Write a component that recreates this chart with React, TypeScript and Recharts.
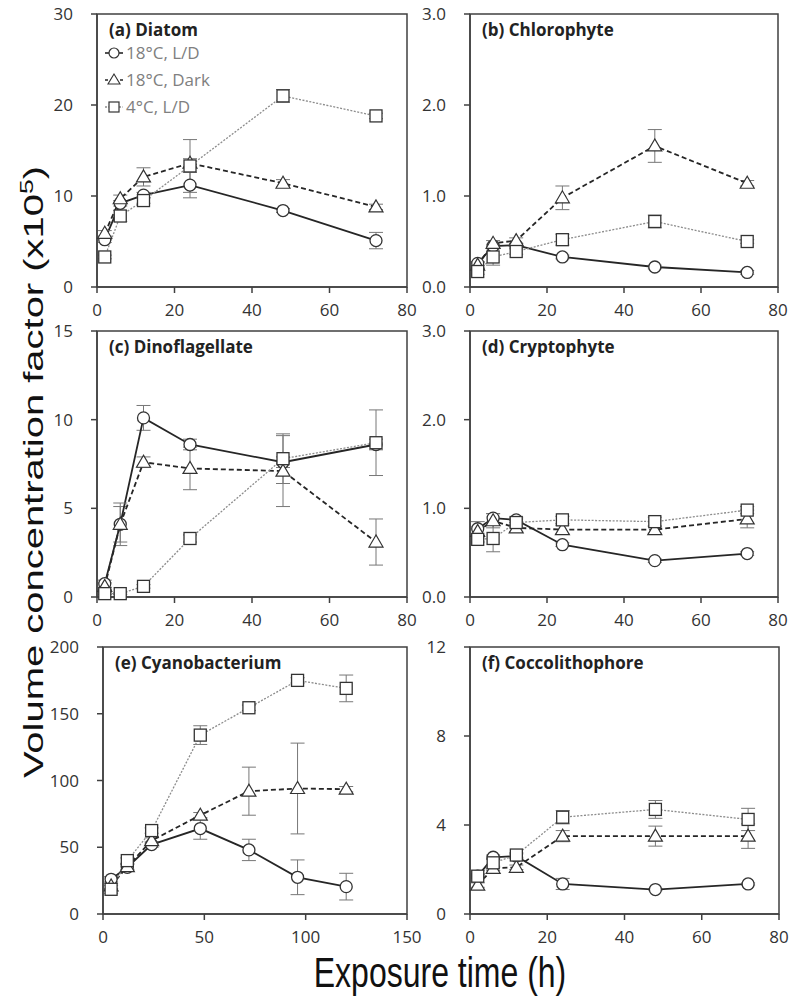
import React from 'react'
import { LineChart, Line, XAxis, YAxis, ErrorBar, ReferenceArea } from 'recharts'

// sampling times (h)
const hoursShort = [2, 6, 12, 24, 48, 72]
const hoursCyano = [4, 12, 24, 48, 72, 96, 120]

const seriesNames = ['18°C, L/D', '18°C, Dark', '4°C, L/D']

// (a) Diatom
const diatomLD = [5.2, 9.2, 10.1, 11.2, 8.4, 5.1]
const diatomLDErr = [0.3, 0.3, 0.3, 1.4, 0.2, 0.9]
const diatomDark = [5.9, 9.7, 12.1, 13.6, 11.4, 8.8]
const diatomDarkErr = [0.3, 0.4, 1.0, 0.5, 0.4, 0.3]
const diatomCold = [3.3, 7.8, 9.5, 13.3, 21.0, 18.8]
const diatomColdErr = [0.2, 0.6, 0.3, 2.9, 0.7, 0.3]

// (b) Chlorophyte
const chloroLD = [0.26, 0.45, 0.46, 0.33, 0.22, 0.16]
const chloroLDErr = [0.02, 0.02, 0.02, 0.02, 0.02, 0.02]
const chloroDark = [0.24, 0.48, 0.51, 0.98, 1.55, 1.14]
const chloroDarkErr = [0.03, 0.03, 0.03, 0.13, 0.18, 0.03]
const chloroCold = [0.17, 0.33, 0.39, 0.52, 0.72, 0.5]
const chloroColdErr = [0.03, 0.09, 0.03, 0.06, 0.07, 0.02]

// (c) Dinoflagellate
const dinoLD = [0.75, 4.1, 10.1, 8.6, 7.6, 8.6]
const dinoLDErr = [0.2, 1.0, 0.7, 0.3, 0.3, 0.3]
const dinoDark = [0.6, 4.1, 7.6, 7.25, 7.1, 3.1]
const dinoDarkErr = [0.2, 1.2, 0.3, 1.2, 2.0, 1.3]
const dinoCold = [0.19, 0.19, 0.6, 3.3, 7.8, 8.7]
const dinoColdErr = [0.05, 0.05, 0.1, 0.2, 1.4, 1.85]

// (d) Cryptophyte
const cryptoLD = [0.77, 0.89, 0.87, 0.59, 0.41, 0.49]
const cryptoLDErr = [0.08, 0.05, 0.03, 0.02, 0.02, 0.02]
const cryptoDark = [0.74, 0.86, 0.78, 0.76, 0.76, 0.88]
const cryptoDarkErr = [0.05, 0.08, 0.04, 0.05, 0.04, 0.1]
const cryptoCold = [0.65, 0.66, 0.84, 0.87, 0.85, 0.98]
const cryptoColdErr = [0.03, 0.15, 0.04, 0.04, 0.05, 0.04]

// (e) Cyanobacterium
const cyanoLD = [26, 35, 52, 64, 48, 27.5, 20.5]
const cyanoLDErr = [2, 2, 2, 8, 8, 13, 10]
const cyanoDark = [21, 35.5, 55, 74, 92, 94, 93.5]
const cyanoDarkErr = [2, 2, 2, 2, 18, 34, 2]
const cyanoCold = [18.5, 40, 62.5, 134, 154.5, 175, 169]
const cyanoColdErr = [3, 2, 2, 7, 2, 2, 10]

// (f) Coccolithophore
const coccoLD = [1.7, 2.55, 2.6, 1.35, 1.1, 1.35]
const coccoLDErr = [0.1, 0.1, 0.1, 0.25, 0.05, 0.05]
const coccoDark = [1.3, 2.05, 2.1, 3.5, 3.5, 3.5]
const coccoDarkErr = [0.1, 0.1, 0.1, 0.25, 0.45, 0.55]
const coccoCold = [1.7, 2.3, 2.65, 4.35, 4.7, 4.25]
const coccoColdErr = [0.1, 0.2, 0.1, 0.3, 0.4, 0.5]

const ticks80 = [0, 20, 40, 60, 80]
const ticks150 = [0, 50, 100, 150]

const AXIS = '#404040'
const MARK = '#333'

type Panel = {
  title: string
  hours: number[]
  ld: number[]; ldErr: number[]
  dark: number[]; darkErr: number[]
  cold: number[]; coldErr: number[]
  xMax: number; xTicks: number[]
  yMax: number; yTicks: number[]; decimals: number
  box: [number, number, number, number] // plot area left, top, width, height
}

const panels: Panel[] = [
  { title: '(a) Diatom', hours: hoursShort, ld: diatomLD, ldErr: diatomLDErr, dark: diatomDark, darkErr: diatomDarkErr, cold: diatomCold, coldErr: diatomColdErr, xMax: 80, xTicks: ticks80, yMax: 30, yTicks: [0, 10, 20, 30], decimals: 0, box: [97, 14, 310, 273] },
  { title: '(b) Chlorophyte', hours: hoursShort, ld: chloroLD, ldErr: chloroLDErr, dark: chloroDark, darkErr: chloroDarkErr, cold: chloroCold, coldErr: chloroColdErr, xMax: 80, xTicks: ticks80, yMax: 3, yTicks: [0, 1, 2, 3], decimals: 1, box: [470, 14, 308, 273] },
  { title: '(c) Dinoflagellate', hours: hoursShort, ld: dinoLD, ldErr: dinoLDErr, dark: dinoDark, darkErr: dinoDarkErr, cold: dinoCold, coldErr: dinoColdErr, xMax: 80, xTicks: ticks80, yMax: 15, yTicks: [0, 5, 10, 15], decimals: 0, box: [97, 331, 310, 266] },
  { title: '(d) Cryptophyte', hours: hoursShort, ld: cryptoLD, ldErr: cryptoLDErr, dark: cryptoDark, darkErr: cryptoDarkErr, cold: cryptoCold, coldErr: cryptoColdErr, xMax: 80, xTicks: ticks80, yMax: 3, yTicks: [0, 1, 2, 3], decimals: 1, box: [470, 331, 308, 266] },
  { title: '(e) Cyanobacterium', hours: hoursCyano, ld: cyanoLD, ldErr: cyanoLDErr, dark: cyanoDark, darkErr: cyanoDarkErr, cold: cyanoCold, coldErr: cyanoColdErr, xMax: 150, xTicks: ticks150, yMax: 200, yTicks: [0, 50, 100, 150, 200], decimals: 0, box: [103, 647, 304, 267] },
  { title: '(f) Coccolithophore', hours: hoursShort, ld: coccoLD, ldErr: coccoLDErr, dark: coccoDark, darkErr: coccoDarkErr, cold: coccoCold, coldErr: coccoColdErr, xMax: 80, xTicks: ticks80, yMax: 12, yTicks: [0, 4, 8, 12], decimals: 0, box: [470, 647, 309, 267] },
]

const CircleDot = (props: any) => {
  const { cx, cy, index } = props
  if (cx == null || cy == null) return <g key={`c${index}`} />
  return <circle key={`c${index}`} cx={cx} cy={cy} r={6} fill="#fff" stroke={MARK} strokeWidth={1.3} />
}

const TriangleDot = (props: any) => {
  const { cx, cy, index } = props
  if (cx == null || cy == null) return <g key={`t${index}`} />
  return (
    <polygon key={`t${index}`} points={`${cx},${cy - 7} ${cx - 7},${cy + 5} ${cx + 7},${cy + 5}`}
      fill="#fff" stroke={MARK} strokeWidth={1.2} />
  )
}

const SquareDot = (props: any) => {
  const { cx, cy, index } = props
  if (cx == null || cy == null) return <g key={`s${index}`} />
  return <rect key={`s${index}`} x={cx - 6} y={cy - 6} width={12} height={12} fill="#fff" stroke={MARK} strokeWidth={1.3} />
}

const TOP_PAD = 16
const RIGHT_PAD = 22

function PanelChart({ p }: { p: Panel }) {
  const [left, top, w, h] = p.box
  const data = p.hours.map((t, i) => ({
    t,
    ld: p.ld[i], ldErr: p.ldErr[i],
    dark: p.dark[i], darkErr: p.darkErr[i],
    cold: p.cold[i], coldErr: p.coldErr[i],
  }))
  const tickStyle = { fill: '#333', fontSize: 17, fontFamily: 'Open Sans' }
  return (
    <div style={{ position: 'absolute', left: left - 60, top: top - TOP_PAD }}>
      <LineChart width={w + 60 + RIGHT_PAD} height={h + TOP_PAD + 40} data={data}
        margin={{ top: TOP_PAD, right: RIGHT_PAD, left: 0, bottom: 0 }}>
        <ReferenceArea x1={0} x2={p.xMax} y1={0} y2={p.yMax} fill="none" stroke={AXIS} strokeWidth={1.5} />
        <XAxis type="number" dataKey="t" domain={[0, p.xMax]} ticks={p.xTicks} interval={0} height={40}
          tickSize={6} tickMargin={11} axisLine={{ stroke: AXIS, strokeWidth: 1.5 }}
          tickLine={{ stroke: AXIS, strokeWidth: 1.5 }} tick={tickStyle} />
        <YAxis type="number" domain={[0, p.yMax]} ticks={p.yTicks} interval={0} width={60}
          tickSize={6} tickMargin={18} axisLine={{ stroke: AXIS, strokeWidth: 1.5 }}
          tickLine={{ stroke: AXIS, strokeWidth: 1.5 }} tick={tickStyle}
          tickFormatter={(v: number) => v.toFixed(p.decimals)} />
        <Line type="linear" dataKey="ld" stroke="#262626" strokeWidth={1.8} dot={CircleDot} activeDot={false} isAnimationActive={false}>
          <ErrorBar dataKey="ldErr" direction="y" width={7} stroke="#777" strokeWidth={1} />
        </Line>
        <Line type="linear" dataKey="dark" stroke="#262626" strokeWidth={1.8} strokeDasharray="5 3" dot={TriangleDot} activeDot={false} isAnimationActive={false}>
          <ErrorBar dataKey="darkErr" direction="y" width={7} stroke="#777" strokeWidth={1} />
        </Line>
        <Line type="linear" dataKey="cold" stroke="#8c8c8c" strokeWidth={1.3} strokeDasharray="2 1.5" dot={SquareDot} activeDot={false} isAnimationActive={false}>
          <ErrorBar dataKey="coldErr" direction="y" width={7} stroke="#777" strokeWidth={1} />
        </Line>
      </LineChart>
    </div>
  )
}

function LegendRows() {
  const x0 = 105
  const rows = [53, 80, 107]
  return (
    <g>
      {seriesNames.map((name, i) => {
        const y = rows[i]
        const cx = x0 + 9
        const line =
          i === 0 ? <line x1={x0} x2={x0 + 18} y1={y} y2={y} stroke="#262626" strokeWidth={1.6} /> :
          i === 1 ? <line x1={x0} x2={x0 + 18} y1={y} y2={y} stroke="#262626" strokeWidth={1.6} strokeDasharray="3 2" /> :
          <line x1={x0} x2={x0 + 18} y1={y} y2={y} stroke="#8c8c8c" strokeWidth={1.3} strokeDasharray="2 1.5" />
        const mark =
          i === 0 ? <circle cx={cx} cy={y} r={5} fill="#fff" stroke={MARK} strokeWidth={1.2} /> :
          i === 1 ? <polygon points={`${cx},${y - 6} ${cx - 6},${y + 4} ${cx + 6},${y + 4}`} fill="#fff" stroke={MARK} strokeWidth={1.1} /> :
          <rect x={cx - 5} y={y - 5} width={10} height={10} fill="#fff" stroke={MARK} strokeWidth={1.2} />
        return (
          <g key={name}>
            {line}
            {mark}
            <text x={x0 + 21} y={y + 6} fontSize={17} fill="#808080" fontFamily="Open Sans">{name}</text>
          </g>
        )
      })}
    </g>
  )
}

export default function App() {
  return (
    <div style={{ position: 'absolute', left: 0, top: 0, width: 800, height: 1002, background: '#fff', overflow: 'hidden' }}>
      {panels.map(p => <PanelChart key={p.title} p={p} />)}
      <svg width={800} height={1002} style={{ position: 'absolute', left: 0, top: 0, pointerEvents: 'none' }}>
        {panels.map(p => (
          <text key={p.title} x={p.box[0] + 12} y={p.box[1] + 22} fontSize={17} fontWeight="bold"
            fill="#222" fontFamily="Open Sans">{p.title}</text>
        ))}
        <LegendRows />
        <text transform="translate(43, 472) rotate(-90) scale(1.48, 1)" textAnchor="middle"
          fontSize={27} fill="#111" fontFamily="Liberation Sans">
          Volume concentration factor (x10<tspan dy={-10} fontSize={18}>5</tspan><tspan dy={10}>)</tspan>
        </text>
        <text transform="translate(440, 987) scale(1, 1.3)" textAnchor="middle"
          fontSize={32} fill="#111" fontFamily="Liberation Sans">Exposure time (h)</text>
      </svg>
    </div>
  )
}
